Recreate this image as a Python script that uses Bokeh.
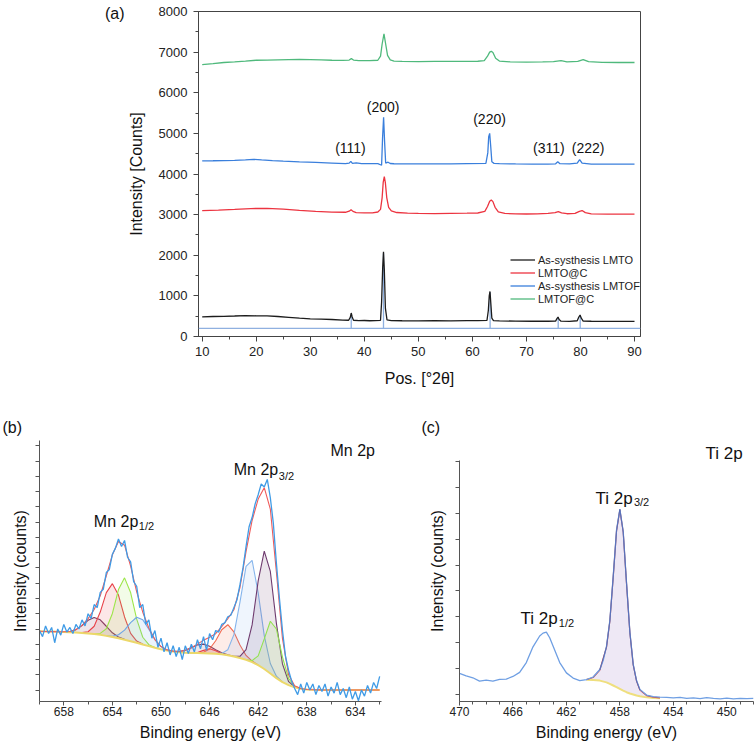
import numpy as np
from bokeh.plotting import figure
from bokeh.models import (Range1d, FixedTicker, SingleIntervalTicker, Label, Span,
                          Legend, LegendItem, CustomJSTickFormatter, LinearAxis)
from bokeh.core.properties import value
from bokeh.layouts import column, row
from bokeh.embed import file_html
from bokeh.resources import INLINE

FONT = "Liberation Sans"

# ------------------------------------------------------------------ (a) XRD
BLACK_X = [10, 12, 14, 16, 18, 20, 22, 24, 26, 28, 30, 32, 34, 36, 37.1, 37.4, 37.58, 37.75, 38.0, 39,
           40, 41, 42, 43.0, 43.2, 43.4, 43.55, 43.7, 43.9, 44.2, 45, 47, 50, 53, 56, 59, 61, 62.7, 62.95, 63.12,
           63.26, 63.42, 63.6, 63.9, 65, 68, 71, 74, 75.4, 75.65, 75.85, 76.05, 76.4, 78, 79.4, 79.7, 79.93, 80.15,
           80.5, 82, 85, 88, 90]
BLACK_Y = [485, 492, 496, 505, 515, 510, 506, 492, 472, 452, 436, 428, 418, 405, 400, 470, 578, 480, 400, 392,
           394, 388, 392, 398, 850, 1700, 2086, 1650, 700, 410, 392, 388, 386, 390, 386, 390, 392, 398, 640, 1000,
           1109, 800, 450, 390, 386, 378, 375, 375, 380, 440, 478, 420, 378, 372, 388, 480, 528, 450,
           380, 375, 372, 370, 370]

RED_X = [10, 13, 16, 19, 22, 25, 28, 31, 34, 36.5, 37.2, 37.55, 37.9, 38.5, 40, 41.5, 42.5, 43.0, 43.3, 43.5,
         43.7, 43.9, 44.15, 44.5, 45.0, 46, 48, 50, 53, 56, 59, 61, 62.3, 62.8, 63.2, 63.5, 63.8, 64.2, 64.8, 66,
         68, 70, 72, 74, 75.3, 75.9, 76.5, 77.5, 79, 79.8, 80.3, 80.9, 82, 85, 88, 90]
RED_Y = [3096, 3112, 3130, 3150, 3152, 3135, 3105, 3078, 3062, 3058, 3085, 3122, 3080, 3050, 3042, 3045, 3065,
         3130, 3420, 3800, 3933, 3780, 3420, 3180, 3090, 3052, 3035, 3030, 3025, 3030, 3035, 3040, 3080, 3200,
         3330, 3360, 3320, 3180, 3070, 3030, 3018, 3015, 3020, 3030, 3048, 3075, 3045, 3022, 3030, 3082, 3100,
         3050, 3020, 3012, 3010, 3012]

BLUE_X = [10, 12, 14, 16, 18, 19.5, 21, 23, 25, 28, 31, 34, 36.5, 37.2, 37.5, 37.8, 38.5, 39.5, 41, 42.5,
          43.2, 43.38, 43.57, 43.75, 43.95, 44.4, 44.8, 45.5, 47, 50, 53, 56, 59, 62.5, 62.85, 63.02, 63.2, 63.38,
          63.6, 64.0, 65, 68, 71, 74, 75.4, 75.8, 76.2, 78, 79.4, 79.85, 80.3, 82, 85, 88, 90]
BLUE_Y = [4323, 4326, 4330, 4336, 4346, 4362, 4346, 4330, 4315, 4300, 4286, 4270, 4256, 4268, 4310, 4262, 4272,
          4254, 4255, 4255, 4215, 4900, 5394, 4800, 4270, 4290, 4258, 4252, 4250, 4248, 4250, 4250, 4255, 4260,
          4520, 4920, 5000, 4700, 4300, 4262, 4255, 4248, 4245, 4245, 4250, 4300, 4255, 4248, 4268, 4355, 4268,
          4245, 4245, 4245, 4245]

GREEN_X = [10, 12, 14, 16, 18, 20, 22, 24, 26, 28, 30, 32, 34, 36, 37.2, 37.6, 38.0, 39, 41, 42.5, 43.0, 43.3,
           43.64, 43.95, 44.3, 44.8, 45.5, 47, 50, 53, 56, 59, 61, 62.2, 62.8, 63.2, 63.5, 63.8, 64.3, 65, 67, 70,
           73, 75, 76.4, 77.5, 79.5, 80.5, 81.5, 84, 87, 90]
GREEN_Y = [6692, 6718, 6745, 6762, 6780, 6800, 6802, 6810, 6815, 6820, 6816, 6810, 6800, 6795, 6805, 6840, 6805,
           6790, 6790, 6800, 6900, 7200, 7448, 7200, 6920, 6810, 6780, 6770, 6765, 6770, 6770, 6770, 6775, 6790,
           6900, 7000, 7020, 6990, 6850, 6780, 6760, 6755, 6760, 6765, 6792, 6760, 6770, 6815, 6765, 6750, 6745,
           6745]

STICK_POS = [37.58, 43.55, 63.28, 75.88, 79.95]
STICK_TOP = [560, 2050, 1090, 470, 520]
STICK_BASE = 200

SERIES_NAMES = ["As-systhesis LMTO", "LMTO@C", "As-systhesis LMTOF", "LMTOF@C"]
HKL_LABELS = ["(111)", "(200)", "(220)", "(311)", "(222)"]
HKL_X = [37.44, 43.49, 63.17, 74.14, 81.43]
HKL_Y = [4645, 5650, 5342, 4645, 4645]

# ------------------------------------------------------------------ (b) Mn 2p
MN_START, MN_STEP = 660.0, 0.5
MN_BASE = [3.85, 3.84, 3.83, 3.82, 3.81, 3.79, 3.77, 3.74, 3.71, 3.67, 3.62, 3.55, 3.47, 3.39, 3.30, 3.20,
           3.10, 2.99, 2.88, 2.77, 2.67, 2.59, 2.53, 2.48, 2.45, 2.43, 2.42, 2.41, 2.40, 2.38, 2.34, 2.28,
           2.20, 2.10, 1.98, 1.83, 1.63, 1.38, 1.08, 0.78, 0.52, 0.32, 0.18, 0.09, 0.04, 0.02, 0.01,
           0.0, 0.0, 0.0, 0.0, 0.0, 0.0, 0.0, 0.0, 0.0, 0.0]
MN_ENV = [3.85, 3.84, 3.83, 3.82, 3.82, 3.84, 3.96, 4.24, 4.68, 5.28, 6.18, 7.49, 8.86, 9.73, 9.49, 8.12,
          6.43, 5.10, 4.07, 3.31, 2.85, 2.63, 2.55, 2.53, 2.60, 2.77, 3.01, 3.27, 3.46, 3.69, 4.15, 4.67,
          5.26, 6.72, 9.07, 11.11, 12.51, 13.26, 11.86, 7.72, 3.37, 1.01, 0.28, 0.10, 0.04, 0.02, 0.01,
          0.0, 0.0, 0.0, 0.0, 0.0, 0.0, 0.0, 0.0, 0.0, 0.0]
# component: (start eV, height above background on the 0.5 eV grid, colour)
MN_COMP = [
    (658.0, [0.01, 0.05, 0.19, 0.48, 0.86, 1.09, 0.98, 0.63, 0.28, 0.09, 0.02], "#7d3c63"),
    (656.5, [0.02, 0.11, 0.51, 1.49, 2.83, 3.5, 2.83, 1.49, 0.51, 0.11, 0.02], "#e8424a"),
    (655.5, [0.01, 0.09, 0.47, 1.55, 3.19, 4.05, 3.19, 1.55, 0.47, 0.09, 0.01], "#9de64a"),
    (654.5, [0.01, 0.06, 0.23, 0.63, 1.22, 1.67, 1.62, 1.10, 0.53, 0.18, 0.04, 0.01], "#6ea5e6"),
    (649.0, [0.01, 0.05, 0.15, 0.34, 0.54, 0.60, 0.47, 0.26, 0.10, 0.03, 0.01], "#7d3c63"),
    (647.0, [0.04, 0.19, 0.30, 0.19, 0.04], "#e8424a"),
    (647.0, [0.01, 0.07, 0.29, 0.85, 1.61, 2.0, 1.61, 0.85, 0.29, 0.07, 0.01], "#f2694f"),
    (645.5, [0.01, 0.06, 0.36, 1.43, 3.66, 6.12, 6.67, 4.74, 2.19, 0.66, 0.13, 0.02], "#86b5ec"),
    (644.0, [0.01, 0.11, 0.67, 2.44, 5.52, 7.72, 6.69, 3.59, 1.19, 0.24, 0.03], "#6f3b6f"),
    (643.0, [0.01, 0.10, 0.61, 1.97, 3.43, 3.22, 1.64, 0.45, 0.07, 0.01], "#92e24f"),
]
MN_RAW_START, MN_RAW_STEP = 660.0, 0.25
MN_RAW = [3.9, 3.5, 4.2, 3.7, 4.1, 3.1, 4.0, 3.6, 4.3, 3.8,
          4.1, 3.7, 4.3, 4.0, 4.6, 4.2, 5.0, 4.7, 5.6, 5.4,
          6.4, 6.6, 7.7, 7.9, 8.9, 9.3, 9.9, 9.4, 9.8, 8.7,
          8.4, 7.1, 6.8, 5.4, 5.6, 4.3, 4.6, 3.4, 3.9, 2.8,
          3.4, 2.5, 3.1, 2.3, 2.9, 2.2, 2.8, 2.0, 2.9, 2.4,
          3.0, 2.5, 3.3, 2.7, 3.5, 2.6, 3.7, 3.3, 3.9, 3.8,
          4.3, 4.4, 4.8, 4.9, 5.4, 5.9, 6.9, 8.0, 9.4, 10.7,
          11.3, 12.2, 12.8, 13.5, 13.3, 13.8, 12.6, 10.9, 8.3, 6.0,
          3.9, 2.2, 1.3, 0.6, 0.1, -0.3, 0.4, -0.2, 0.5, 0.0,
          0.4, -0.3, 0.3, -0.1, 0.4, -0.4, 0.2, -0.2, 0.5, -0.3,
          0.1, -0.5, 0.2, -0.6, -0.1, -0.7, 0.0, -0.4, 0.3, -0.2,
          0.5, 0.1, 0.9]
MN_TICKS = [634, 638, 642, 646, 650, 654, 658]
MN_MINOR = [632, 634, 636, 638, 640, 642, 644, 646, 648, 650, 652, 654, 656, 658, 660]

# ------------------------------------------------------------------ (c) Ti 2p
TI_X = [470, 469.5, 469, 468.5, 468, 467.5, 467, 466.5, 466, 465.5, 465, 464.5, 464, 463.75, 463.5, 463.25,
        463, 462.5, 462, 461.5, 461, 460.5, 460, 459.5, 459.25, 459, 458.75, 458.5, 458.25, 458, 457.75,
        457.5, 457.25, 457, 456.75, 456.5, 456, 455.5, 455, 454.5, 454, 453.5, 453, 452.5, 452, 451.5, 451,
        450.5, 450, 449.5, 449, 448.5, 448]
TI_Y = [0.80, 0.70, 0.63, 0.50, 0.54, 0.50, 0.57, 0.58, 0.68, 0.84, 1.22, 1.83, 2.25, 2.36, 2.40, 2.18,
        1.86, 1.22, 0.82, 0.62, 0.52, 0.56, 0.66, 0.95, 1.30, 1.85, 2.85, 4.55, 6.35, 7.17, 6.30,
        4.30, 2.40, 1.15, 0.52, 0.18, -0.04, -0.10, -0.12, -0.13, -0.15, -0.13, -0.17, -0.15, -0.18, -0.14,
        -0.17, -0.19, -0.16, -0.19, -0.17, -0.18, -0.17]
TI_FIT_X = [460.5, 460, 459.5, 459, 458.75, 458.5, 458.25, 458, 457.75, 457.5, 457.25, 457, 456.75, 456.5,
            456, 455.5, 455]
TI_FIT = [0.56, 0.64, 0.93, 1.82, 2.82, 4.52, 6.32, 7.15, 6.28, 4.28, 2.38, 1.13, 0.50, 0.15, -0.06, -0.12,
          -0.15]
TI_BG = [0.55, 0.54, 0.52, 0.45, 0.39, 0.33, 0.27, 0.20, 0.13, 0.07, 0.02, -0.02, -0.06, -0.09, -0.13,
         -0.15, -0.16]
TI_TICKS = [450, 454, 458, 462, 466, 470]
TI_MINOR = list(range(448, 471))


# ------------------------------------------------------------------ helpers
def style_axis(ax, size, tick_out, minor_out, color="#444"):
    ax.axis_line_color = color
    ax.major_tick_line_color = color
    ax.minor_tick_line_color = color
    ax.major_tick_in = 0
    ax.major_tick_out = tick_out
    ax.minor_tick_in = 0
    ax.minor_tick_out = minor_out
    ax.major_label_text_font = FONT
    ax.major_label_text_font_size = f"{size}px"
    ax.major_label_text_color = "#222"
    ax.axis_label_text_font = FONT
    ax.axis_label_text_font_size = "16px"
    ax.axis_label_text_font_style = "normal"
    ax.axis_label_text_color = "#111"


def add_text(p, x, y, text, size, align="left"):
    p.add_layout(Label(x=x, y=y, text=text, text_font=FONT, text_font_size=f"{size}px",
                       text_align=align, text_baseline="middle", text_color="#111"))


def panel_title(p, text, offset):
    p.title.text = text
    p.title.align = "left"
    p.title.offset = offset
    p.title.text_font = FONT
    p.title.text_font_size = "16px"
    p.title.text_font_style = "normal"
    p.title.text_color = "#111"


# ------------------------------------------------------------------ panel (a)
pa = figure(width=756, height=390, x_range=Range1d(9.315, 91.11), y_range=Range1d(0, 8000),
            output_backend="svg", toolbar_location=None,
            min_border_left=198, min_border_right=116, min_border_top=11, min_border_bottom=54)
pa.xgrid.visible = False
pa.ygrid.visible = False
pa.outline_line_color = "#444"
pa.xaxis.ticker = SingleIntervalTicker(interval=10, num_minor_ticks=2)
pa.yaxis.ticker = SingleIntervalTicker(interval=1000, num_minor_ticks=2)
style_axis(pa.xaxis[0], 13, 5, 3)
style_axis(pa.yaxis[0], 13, 5, 3)
pa.xaxis.axis_label = "Pos. [°2θ]"
pa.yaxis.axis_label = "Intensity [Counts]"
pa.xaxis.major_label_standoff = 5
pa.yaxis.major_label_standoff = 6
pa.xaxis.axis_label_standoff = 11
pa.yaxis.axis_label_standoff = 11

# panel letter as an outer, line-less axis label
tag_axis = LinearAxis(ticker=FixedTicker(ticks=[7943]), major_label_overrides={7943: "(a)"},
                      axis_line_color=None, major_tick_line_color=None, minor_tick_line_color=None,
                      major_tick_out=0, major_tick_in=0, major_label_standoff=0,
                      major_label_text_font=FONT, major_label_text_font_size="16px",
                      major_label_text_color="#111")
pa.add_layout(tag_axis, "left")

pa.add_layout(Span(location=STICK_BASE, dimension="width", line_color="#8fb0e0", line_width=1.3))
pa.segment(x0=STICK_POS, y0=[STICK_BASE] * len(STICK_POS), x1=STICK_POS, y1=STICK_TOP,
           line_color="#8fb0e0", line_width=1.3)
r_green = pa.line(GREEN_X, GREEN_Y, line_color="#4fb97c", line_width=1.3)
r_blue = pa.line(BLUE_X, BLUE_Y, line_color="#3a7fdc", line_width=1.3)
r_red = pa.line(RED_X, RED_Y, line_color="#ec3440", line_width=1.3)
r_black = pa.line(BLACK_X, BLACK_Y, line_color="#1c1c1c", line_width=1.3)

legend = Legend(items=[LegendItem(label=SERIES_NAMES[0], renderers=[r_black]),
                       LegendItem(label=SERIES_NAMES[1], renderers=[r_red]),
                       LegendItem(label=SERIES_NAMES[2], renderers=[r_blue]),
                       LegendItem(label=SERIES_NAMES[3], renderers=[r_green])],
                location=(312, 31), background_fill_alpha=0, border_line_color=None,
                padding=0, spacing=0, margin=0, glyph_width=25, glyph_height=13, label_height=13,
                label_standoff=3, label_text_font=FONT, label_text_font_size="11px",
                label_text_color="#222")
pa.add_layout(legend)

pa.text(x=HKL_X, y=HKL_Y, text=HKL_LABELS, text_font=value(FONT), text_font_size="14px",
        text_align="center", text_baseline="middle", text_color="#111")

# ------------------------------------------------------------------ panel (b)
pb = figure(width=420, height=359, x_range=Range1d(660.0, 631.85), y_range=Range1d(-0.75, 16.35),
            output_backend="svg", toolbar_location=None,
            min_border_left=39, min_border_right=39, min_border_top=47, min_border_bottom=47)
pb.xgrid.visible = False
pb.ygrid.visible = False
pb.outline_line_color = None
pb.xaxis.ticker = FixedTicker(ticks=MN_TICKS, minor_ticks=MN_MINOR)
pb.yaxis.ticker = FixedTicker(ticks=list(range(17)), minor_ticks=[])
pb.yaxis.formatter = CustomJSTickFormatter(code="return ''")
style_axis(pb.xaxis[0], 12, 4, 3, "#555")
style_axis(pb.yaxis[0], 12, 4, 0, "#555")
pb.xaxis.major_label_standoff = 1
pb.xaxis.axis_label = "Binding energy (eV)"
pb.xaxis.axis_label_standoff = 5
pb.yaxis.axis_label = "Intensity (counts)"
pb.yaxis.major_label_standoff = 0
pb.yaxis.axis_label_standoff = 7
panel_title(pb, "(b)", -37)

grid = [MN_START - MN_STEP * i for i in range(len(MN_BASE))]
for start, exc, color in MN_COMP:
    i0 = int(round((MN_START - start) / MN_STEP))
    xs = grid[i0:i0 + len(exc)]
    base = MN_BASE[i0:i0 + len(exc)]
    top = [b + e for b, e in zip(base, exc)]
    pb.varea(x=xs, y1=base, y2=top, fill_color=color, fill_alpha=0.13)
    pb.line(xs, top, line_color=color, line_width=1.1)
pb.line(grid, MN_BASE, line_color="#ecd86a", line_width=2)
pb.line(grid, MN_ENV, line_color="#f05a5a", line_width=1.1)
raw_x = [MN_RAW_START - MN_RAW_STEP * i for i in range(len(MN_RAW))]
pb.line(raw_x, MN_RAW, line_color="#3f9be6", line_width=1.3)

add_text(pb, 636.05, 15.69, "Mn 2p", 16)
add_text(pb, 644.01, 14.43, "Mn 2p", 16)
add_text(pb, 640.30, 14.05, "3/2", 11)
add_text(pb, 655.53, 11.04, "Mn 2p", 16)
add_text(pb, 651.83, 10.72, "1/2", 11)

# ------------------------------------------------------------------ panel (c)
pc = figure(width=336, height=359, x_range=Range1d(470.0, 448.0), y_range=Range1d(-0.29, 9.826),
            output_backend="svg", toolbar_location=None,
            min_border_left=39, min_border_right=3, min_border_top=50, min_border_bottom=48)
pc.xgrid.visible = False
pc.ygrid.visible = False
pc.outline_line_color = None
pc.xaxis.ticker = FixedTicker(ticks=TI_TICKS, minor_ticks=TI_MINOR)
pc.yaxis.ticker = FixedTicker(ticks=list(range(10)), minor_ticks=[])
pc.yaxis.formatter = CustomJSTickFormatter(code="return ''")
pc.yaxis.bounds = (-0.29, 9.05)
style_axis(pc.xaxis[0], 12, 4, 3, "#555")
style_axis(pc.yaxis[0], 12, 4, 0, "#555")
pc.xaxis.major_label_standoff = 1
pc.xaxis.axis_label = "Binding energy (eV)"
pc.xaxis.axis_label_standoff = 5
pc.yaxis.axis_label = "Intensity (counts)"
pc.yaxis.major_label_standoff = 0
pc.yaxis.axis_label_standoff = 10
panel_title(pc, "(c)", -38)

pc.varea(x=TI_FIT_X, y1=TI_BG, y2=TI_FIT, fill_color="#ddd2ec", fill_alpha=0.5)
pc.line(TI_FIT_X, TI_BG, line_color="#efdf7e", line_width=2)
pc.line(TI_FIT_X, TI_FIT, line_color="#d04a4a", line_width=1.2)
pc.line(TI_X, TI_Y, line_color="#6f9fe3", line_width=1.3)
pc.line(TI_FIT_X[2:14], TI_FIT[2:14], line_color="#4a4f9a", line_width=1.0, line_alpha=0.6)

add_text(pc, 451.59, 9.31, "Ti 2p", 17)
add_text(pc, 459.82, 7.59, "Ti 2p", 17)
add_text(pc, 456.95, 7.43, "3/2", 11)
add_text(pc, 465.43, 2.91, "Ti 2p", 17)
add_text(pc, 462.57, 2.76, "1/2", 11)

layout = column(pa, row(pb, pc, spacing=0), spacing=0)
open("out.html", "w").write(file_html(layout, INLINE))
